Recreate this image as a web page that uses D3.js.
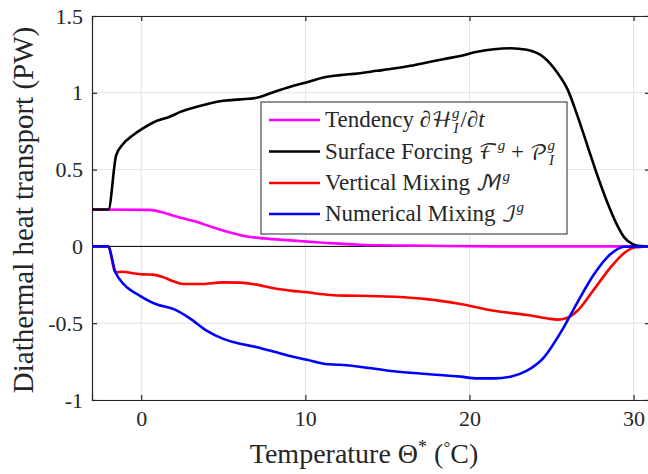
<!DOCTYPE html>
<html>
<head>
<meta charset="utf-8">
<script src="https://cdn.jsdelivr.net/npm/d3@7"></script>
<style>
  body { margin: 0; background: #fff; }
  svg { display: block; font-family: "Liberation Serif", serif; }
</style>
</head>
<body>
<svg width="648" height="474"></svg>
<script>
// Series: temperature (°C) and transport (PW)
const tendencyTemp = [-3, 0.5, 1.33, 2.14, 3.37, 4.39, 5.4, 6.43, 7.45, 9.08, 11.1, 13.3, 17.4, 21.5, 31];
const tendencyVal  = [0.24, 0.238, 0.22, 0.195, 0.16, 0.123, 0.091, 0.065, 0.052, 0.039, 0.024, 0.011, 0.004, 0, 0];

const forcingTemp = [-3, -2, -1.53, -1.12, -0.51, 0.1, 0.92, 1.73, 2.35, 2.96, 3.98, 5.0, 6.02, 7.04, 8.06, 9.08,
  10.1, 11.1, 12.1, 13.2, 14.36, 15.38, 16.4, 17.4, 18.4, 19.45, 20.47, 21.5, 22.5, 23.5, 24.54, 25.36,
  25.97, 26.58, 27.19, 27.8, 28.4, 29.02, 29.43, 29.94, 30.45, 31];
const forcingVal = [0.24, 0.24, 0.593, 0.665, 0.723, 0.768, 0.816, 0.844, 0.874, 0.896, 0.926, 0.948, 0.957, 0.968, 1.004, 1.039,
  1.069, 1.10, 1.115, 1.126, 1.143, 1.158, 1.176, 1.197, 1.219, 1.24, 1.267, 1.284, 1.29, 1.28, 1.23, 1.13,
  1.024, 0.85, 0.655, 0.46, 0.286, 0.134, 0.059, 0.015, 0.002, 0];

const vmixTemp = [-3, -2, -1.57, -1.12, -0.51, 0.1, 0.71, 1.33, 1.94, 2.55, 3.57, 5.0, 6.0, 7.04, 8.06, 9.08,
  10.1, 11.1, 12.1, 13.3, 15.4, 17.4, 19.45, 21.5, 23.5, 24.75, 25.36, 25.97, 26.58, 27.6, 28.6, 29.43, 30.04, 31];
const vmixVal = [0, 0, -0.169, -0.165, -0.175, -0.182, -0.184, -0.2, -0.227, -0.245, -0.245, -0.234, -0.236, -0.249, -0.273, -0.288,
  -0.299, -0.312, -0.32, -0.321, -0.328, -0.343, -0.375, -0.419, -0.447, -0.469, -0.477, -0.464, -0.419, -0.278, -0.137, -0.043, -0.007, 0];

const nmixTemp = [-3, -2.04, -1.57, -1.02, -0.1, 0.92, 1.94, 2.96, 3.98, 5.0, 6.02, 7.04, 8.06, 9.08, 10.1, 11.1,
  12.1, 13.3, 15.4, 17.4, 19.45, 20.47, 21.5, 22.5, 23.5, 24.54, 25.56, 26.58, 27.6, 28.6, 29.43, 31];
const nmixVal = [0, 0, -0.169, -0.251, -0.32, -0.377, -0.407, -0.468, -0.548, -0.602, -0.634, -0.656, -0.684, -0.714, -0.738, -0.764,
  -0.771, -0.783, -0.813, -0.831, -0.848, -0.859, -0.859, -0.848, -0.809, -0.722, -0.56, -0.364, -0.18, -0.05, -0.002, 0];

const xTicks = [0, 10, 20, 30];
const yTicks = [-1, -0.5, 0, 0.5, 1, 1.5];

const series = [
  { name: 'tendency', temp: tendencyTemp, val: tendencyVal, color: '#ff00ff' },
  { name: 'forcing',  temp: forcingTemp,  val: forcingVal,  color: '#000000' },
  { name: 'vmix',     temp: vmixTemp,     val: vmixVal,     color: '#ff0000' },
  { name: 'nmix',     temp: nmixTemp,     val: nmixVal,     color: '#0000ff' }
];

const svg = d3.select('svg');
const plotLeft = 92, plotRight = 650, plotTop = 16, plotBottom = 400;
const serifFont = '"Liberation Serif"';

const x = d3.scaleLinear().domain([-3, 31]).range([plotLeft, plotRight]);
const y = d3.scaleLinear().domain([-1, 1.5]).range([plotBottom, plotTop]);

const axisColor = '#262626';
const gridColor = '#e3e3e3';

// grid
svg.append('g').selectAll('line').data(xTicks).join('line')
  .attr('x1', d => x(d)).attr('x2', d => x(d))
  .attr('y1', plotTop).attr('y2', plotBottom)
  .attr('stroke', gridColor).attr('stroke-width', 1);
svg.append('g').selectAll('line').data(yTicks).join('line')
  .attr('x1', plotLeft).attr('x2', plotRight)
  .attr('y1', d => y(d)).attr('y2', d => y(d))
  .attr('stroke', gridColor).attr('stroke-width', 1);

// zero line
svg.append('line')
  .attr('x1', plotLeft).attr('x2', plotRight)
  .attr('y1', y(0)).attr('y2', y(0))
  .attr('stroke', '#000').attr('stroke-width', 1);

// axes (ticks inward, box on)
const gx = svg.append('g').attr('transform', `translate(0,${plotBottom})`)
  .call(d3.axisBottom(x).tickValues(xTicks).tickSize(-5).tickPadding(10).tickFormat(d3.format('d')));
const gxTop = svg.append('g').attr('transform', `translate(0,${plotTop})`)
  .call(d3.axisTop(x).tickValues(xTicks).tickSize(-5).tickFormat(''));
const gy = svg.append('g').attr('transform', `translate(${plotLeft},0)`)
  .call(d3.axisLeft(y).tickValues(yTicks).tickSize(-5).tickPadding(9).tickFormat(d => String(d)));
const gyRight = svg.append('g').attr('transform', `translate(${plotRight},0)`)
  .call(d3.axisRight(y).tickValues(yTicks).tickSize(-5).tickFormat(''));

[gx, gxTop, gy, gyRight].forEach(g => {
  g.select('.domain').attr('stroke', axisColor).attr('stroke-width', 1.2);
  g.selectAll('.tick line').attr('stroke', axisColor).attr('stroke-width', 1.2);
  g.selectAll('.tick text')
    .attr('fill', axisColor)
    .style('font-family', serifFont)
    .style('font-size', '22px');
});

// curves
const line = d3.line()
  .x(d => x(d[0]))
  .y(d => y(d[1]))
  .curve(d3.curveMonotoneX);

series.forEach(s => {
  svg.append('path')
    .datum(s.temp.map((t, i) => [t, s.val[i]]))
    .attr('d', line)
    .attr('fill', 'none')
    .attr('stroke', s.color)
    .attr('stroke-width', 2.6)
    .attr('stroke-linejoin', 'round');
});

// axis labels
svg.append('text')
  .attr('x', 364).attr('y', 463)
  .attr('text-anchor', 'middle')
  .style('font-family', serifFont)
  .style('font-size', '28px').attr('fill', axisColor)
  .html('Temperature Θ<tspan dy="-10" font-size="18">*</tspan><tspan dy="10"> (</tspan><tspan dy="-10" font-size="17">°</tspan><tspan dy="10">C)</tspan>');

svg.append('text')
  .attr('transform', `translate(33,${(plotTop + plotBottom) / 2 + 2}) rotate(-90)`)
  .attr('text-anchor', 'middle')
  .style('font-family', serifFont)
  .style('font-size', '29px').attr('fill', axisColor)
  .text('Diathermal heat transport (PW)');

// legend
const legend = svg.append('g');
legend.append('rect')
  .attr('x', 261).attr('y', 102).attr('width', 306).attr('height', 132)
  .attr('fill', '#fff').attr('stroke', axisColor).attr('stroke-width', 1);

const scr = 'font-family="DejaVu Math TeX Gyre" font-size="21"';
const sup = 'font-size="15" font-style="italic"';
const legendRows = [
  { color: '#ff00ff', html: `Tendency ∂<tspan ${scr}>ℋ</tspan><tspan dy="-9" ${sup}>g</tspan><tspan dx="-6" dy="15" ${sup}>I</tspan><tspan dx="2" dy="-6">/∂<tspan font-style="italic">t</tspan></tspan>` },
  { color: '#000000', html: `Surface Forcing <tspan ${scr}>ℱ</tspan><tspan dy="-9" ${sup}>g</tspan><tspan dy="9"> + </tspan><tspan ${scr}>𝒫</tspan><tspan dy="-9" ${sup}>g</tspan><tspan dx="-6" dy="15" ${sup}>I</tspan>` },
  { color: '#ff0000', html: `Vertical Mixing <tspan ${scr}>ℳ</tspan><tspan dy="-9" ${sup}>g</tspan>` },
  { color: '#0000ff', html: `Numerical Mixing <tspan ${scr}>ℐ</tspan><tspan dy="-9" ${sup}>g</tspan>` }
];
const rowY = [120, 151.5, 183, 214];

legendRows.forEach((r, i) => {
  legend.append('line')
    .attr('x1', 269).attr('x2', 320)
    .attr('y1', rowY[i]).attr('y2', rowY[i])
    .attr('stroke', r.color).attr('stroke-width', 2.6);
  legend.append('text')
    .attr('x', 325).attr('y', rowY[i] + 7)
    .style('font-family', serifFont)
    .style('font-size', '23px').attr('fill', axisColor)
    .html(r.html);
});
</script>
</body>
</html>
